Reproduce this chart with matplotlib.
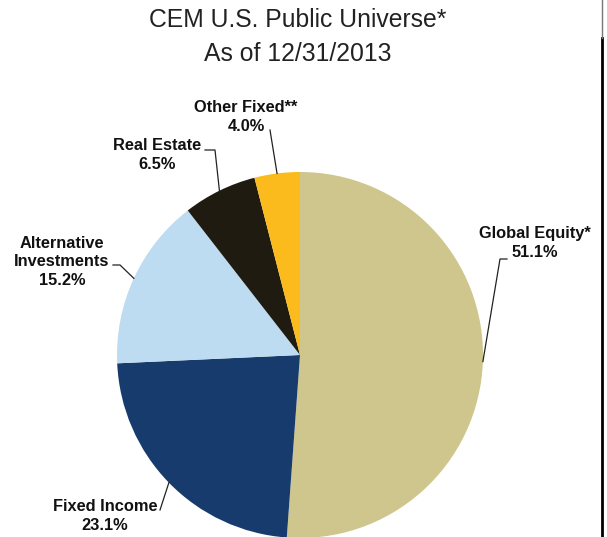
import numpy as np
import matplotlib.pyplot as plt
from matplotlib.lines import Line2D

# asset allocation
labels = ['Global Equity*', 'Fixed Income', 'Alternative\nInvestments', 'Real Estate', 'Other Fixed**']
shares = [51.1, 23.1, 15.2, 6.5, 4.0]
colors = ['#CEC68C', '#173B6C', '#BEDCF1', '#1F1B10', '#FBBB1C']

W, H = 607, 537
fig = plt.figure(figsize=(W / 100, H / 100), dpi=100)
ax = fig.add_axes([0, 0, 1, 1])

cx, cy, r = 300, H - 355, 183
wedges, _ = ax.pie(shares, colors=colors, startangle=90, counterclock=False,
                   center=(cx, cy), radius=r, frame=True,
                   wedgeprops=dict(linewidth=0))
ax.set_xlim(0, W)
ax.set_ylim(0, H)
ax.set_aspect('equal')
ax.axis('off')

fig.text(298 / W, 1 - 20 / H, 'CEM U.S. Public Universe*', ha='center', va='center',
         fontsize=17.8, family='Liberation Sans', color='#222222')
fig.text(298 / W, 1 - 54 / H, 'As of 12/31/2013', ha='center', va='center',
         fontsize=17.8, family='Liberation Sans', color='#222222')

# label text position and leader start (pixels, y down), optional elbow
label_pos = [(535, 243), (105, 516), (62, 262), (157, 155), (246, 117)]
leader_start = [(507, 259), (160, 510), (113, 265), (205, 150), (270, 130)]
leader_elbow = [(500, 259), None, (120, 265), (215, 150), None]

for w, lab, val, pos, st, el in zip(wedges, labels, shares, label_pos, leader_start, leader_elbow):
    mid = np.deg2rad((w.theta1 + w.theta2) / 2)
    ex, ey = cx + r * np.cos(mid), cy + r * np.sin(mid)
    xs = [st[0]]
    ys = [H - st[1]]
    if el is not None:
        xs.append(el[0])
        ys.append(H - el[1])
    xs.append(ex)
    ys.append(ey)
    ax.plot(xs, ys, color='#222222', lw=0.9)
    ax.text(pos[0], H - pos[1], f'{lab}\n{val:.1f}%', ha='center', va='center',
            fontsize=11.8, fontweight='bold', family='Liberation Sans',
            color='#111111', linespacing=1.33)

# frame edge on the right
fig.add_artist(Line2D([602 / W, 602 / W], [0, 1 - 38 / H], transform=fig.transFigure,
                      color='black', lw=2))
fig.add_artist(Line2D([602 / W, 602 / W], [1 - 38 / H, 1], transform=fig.transFigure,
                      color='#777777', lw=1))

fig.savefig('out.png', dpi=100)
